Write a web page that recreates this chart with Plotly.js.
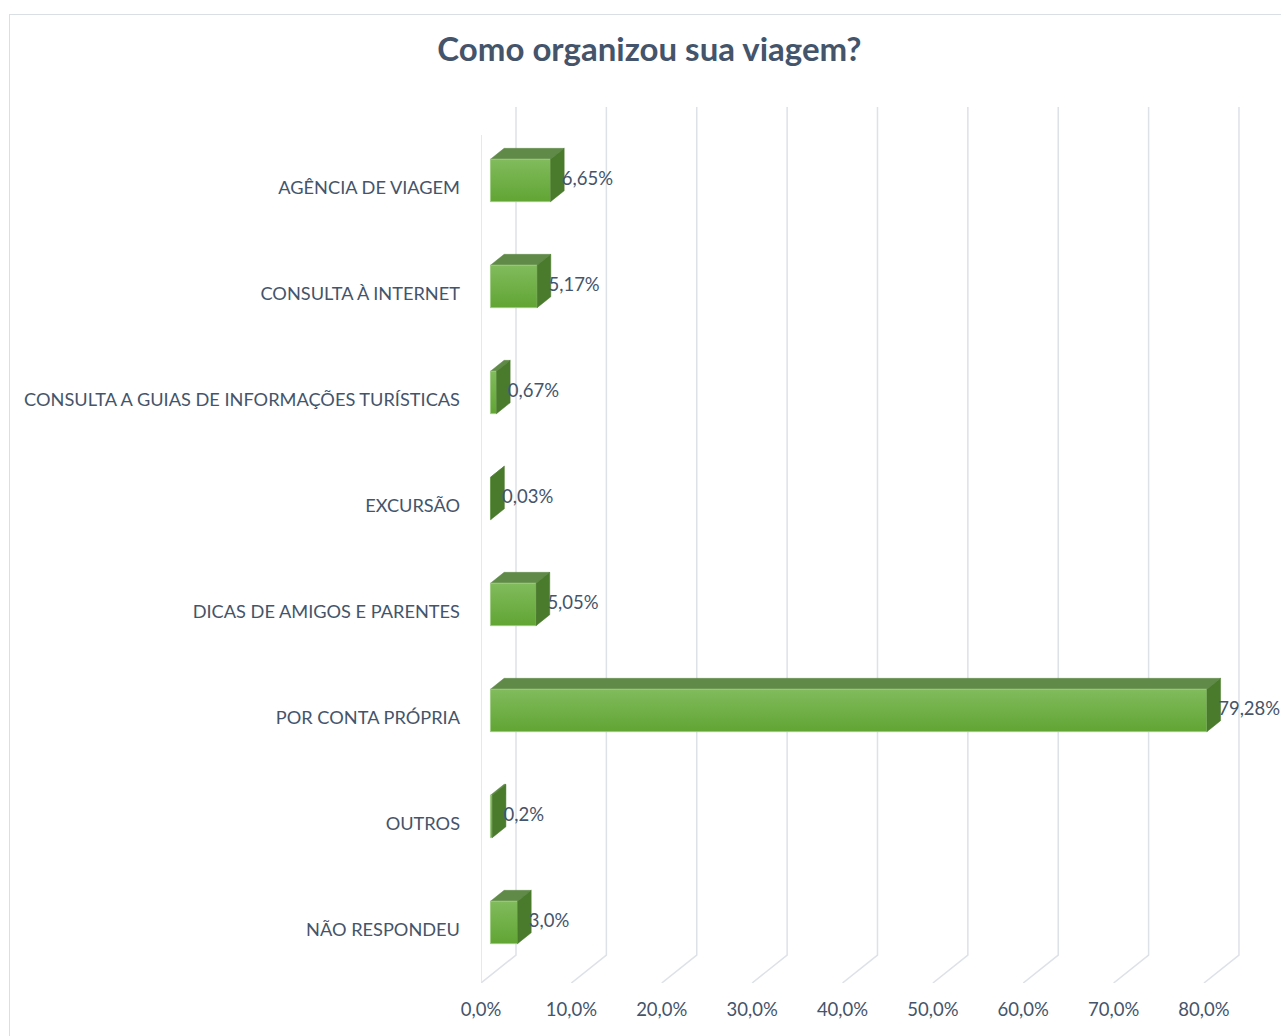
<!DOCTYPE html>
<html>
<head>
<meta charset="utf-8">
<script src="https://cdn.plot.ly/plotly-3.0.1.min.js"></script>
<style>
  html, body { margin: 0; padding: 0; background: #ffffff; overflow: hidden; }
  #frame { position: absolute; left: 9px; top: 14px; width: 1300px; height: 1060px; border: 1px solid #dadfe6; box-sizing: border-box; }
  #chart { position: absolute; left: 0; top: 0; width: 1281px; height: 1036px; }
</style>
</head>
<body>
<div id="frame"></div>
<div id="chart"></div>
<script>
// ---- data ----
const categories = [
  'AGÊNCIA DE VIAGEM',
  'CONSULTA À INTERNET',
  'CONSULTA A GUIAS DE INFORMAÇÕES TURÍSTICAS',
  'EXCURSÃO',
  'DICAS DE AMIGOS E PARENTES',
  'POR CONTA PRÓPRIA',
  'OUTROS',
  'NÃO RESPONDEU'
];
const values = [6.65, 5.17, 0.67, 0.03, 5.05, 79.28, 0.2, 3.0];
const valueLabels = ['6,65%', '5,17%', '0,67%', '0,03%', '5,05%', '79,28%', '0,2%', '3,0%'];
const tickValues = [0, 10, 20, 30, 40, 50, 60, 70, 80];
const tickLabels = ['0,0%', '10,0%', '20,0%', '30,0%', '40,0%', '50,0%', '60,0%', '70,0%', '80,0%'];

// ---- 3D projection constants (in axis units) ----
const DX = 3.873;   // full depth, x-direction (percent units)
const DY = 0.264;   // full depth, y-direction (category units)
const F1 = 0.27, F2 = 0.66; // bar front/back depth fractions
const H = 0.40;     // bar front face height (category units)
const YMIN = -0.5, YTOP = 7.5;

const n = categories.length;
const pos = categories.map((c, i) => n - 1 - i);

const traces = [];
const gridColor = '#dde1e8';

// left wall front edge
traces.push({x: [0, 0], y: [YMIN, YTOP], mode: 'lines', line: {color: gridColor, width: 1.5}, hoverinfo: 'skip', showlegend: false});
// floor diagonals + back wall gridlines
tickValues.forEach(t => {
  traces.push({
    x: [t, t + DX, t + DX],
    y: [YMIN, YMIN + DY, YTOP + DY],
    mode: 'lines', line: {color: gridColor, width: 1.5}, hoverinfo: 'skip', showlegend: false
  });
});

// bars
values.forEach((v, i) => {
  const c = pos[i];
  const x0 = F1 * DX, x1 = v + F1 * DX;
  const yb = c + F1 * DY - H / 2, yt = c + F1 * DY + H / 2;
  const bx0 = F2 * DX, bx1 = v + F2 * DX;
  const bdy = (F2 - F1) * DY;
  // top face
  traces.push({
    x: [x0, x1, bx1, bx0, x0], y: [yt, yt, yt + bdy, yt + bdy, yt],
    mode: 'lines', fill: 'toself', fillcolor: '#5f8a47', line: {color: '#5f8a47', width: 0.5},
    hoverinfo: 'skip', showlegend: false
  });
  // front face
  traces.push({
    x: [x0, x1, x1, x0, x0], y: [yb, yb, yt, yt, yb],
    mode: 'lines', fill: 'toself',
    fillgradient: {type: 'vertical', colorscale: [[0, '#61a533'], [1, '#81bb5d']]},
    line: {color: '#9fcb82', width: 1},
    hoverinfo: 'skip', showlegend: false
  });
  // side face
  traces.push({
    x: [x1, x1, bx1, bx1, x1], y: [yb, yt, yt + bdy, yb + bdy, yb],
    mode: 'lines', fill: 'toself', fillcolor: '#4a7a2c', line: {color: '#4a7a2c', width: 0.5},
    hoverinfo: 'skip', showlegend: false
  });
});

// data labels
traces.push({
  x: values.map(v => v + F1 * DX + 1.25),
  y: pos.map(c => c + F1 * DY),
  text: valueLabels,
  mode: 'text', textposition: 'middle right',
  textfont: {family: 'Lato, sans-serif', size: 18.5, color: '#44546a'},
  hoverinfo: 'skip', showlegend: false, cliponaxis: false
});

const layout = {
  width: 1281, height: 1036,
  margin: {l: 481, r: 36, t: 105, b: 53},
  paper_bgcolor: 'rgba(0,0,0,0)', plot_bgcolor: 'rgba(0,0,0,0)',
  title: {
    text: '<b>Como organizou sua viagem?</b>',
    font: {family: 'Lato, sans-serif', size: 33, color: '#44546a'},
    x: 0.507, xanchor: 'center', y: 0.952, yanchor: 'middle'
  },
  xaxis: {
    range: [0, 84.54], tickvals: tickValues, ticktext: tickLabels,
    showgrid: false, zeroline: false, showline: false, ticks: '',
    ticklabelstandoff: 13,
    tickfont: {family: 'Lato, sans-serif', size: 18.5, color: '#44546a'},
    fixedrange: true
  },
  yaxis: {
    range: [YMIN, 7.783], tickvals: pos, ticktext: categories,
    showgrid: false, zeroline: false, showline: false, ticks: '',
    ticklabelstandoff: 20,
    tickfont: {family: 'Lato, sans-serif', size: 18.2, color: '#44546a'},
    fixedrange: true
  },
  showlegend: false
};

Plotly.newPlot('chart', traces, layout, {displayModeBar: false, staticPlot: true});
</script>
</body>
</html>
